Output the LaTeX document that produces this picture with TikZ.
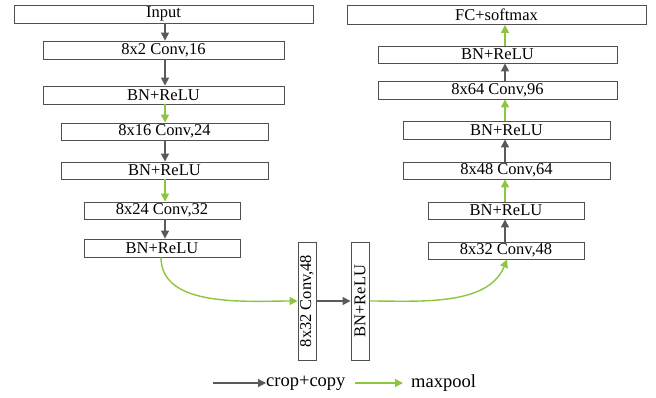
\documentclass[tikz,border=0pt]{standalone}
\usepackage{fontspec}
\setmainfont{Liberation Serif}
\usetikzlibrary{arrows.meta}
\definecolor{arrgray}{HTML}{5A5A5A}
\definecolor{arrgreen}{HTML}{8CC63F}
\definecolor{boxgray}{HTML}{505050}
\tikzset{
  lay/.style={draw=boxgray, line width=0.9pt, fill=white, inner sep=0pt,
    minimum height=18pt, font=\fontsize{16.5}{18}\selectfont},
  vlay/.style={lay, minimum width=18pt, minimum height=118pt},
  garr/.style={draw=arrgray, line width=1.4pt, -{Triangle[length=8pt,width=8pt]}},
  varr/.style={draw=arrgreen, line width=1.4pt, -{Triangle[length=8pt,width=8pt]}},
  legtext/.style={inner sep=0pt, anchor=west, font=\fontsize{18.5}{20}\selectfont}
}
\begin{document}
\begin{tikzpicture}[x=1pt,y=-1pt]
\useasboundingbox (0,0) rectangle (656,397);
% left column
\node[lay, minimum width=299pt] (in)  at (163.5,14) {Input};
\node[lay, minimum width=241pt] (c16) at (163.5,50) {8x2 Conv,16};
\node[lay, minimum width=241pt] (b1)  at (163.5,95) {BN+ReLU};
\node[lay, minimum width=207pt, minimum height=17pt] (c24) at (164.5,131.5) {8x16 Conv,24};
\node[lay, minimum width=207pt, minimum height=17pt] (b2)  at (164.5,170.5) {BN+ReLU};
\node[lay, minimum width=156pt, minimum height=17pt] (c32) at (162,210.5) {8x24 Conv,32};
\node[lay, minimum width=156pt] (b3)  at (162,248) {BN+ReLU};
\coordinate (lx) at (165,0);
% vertical
\node[vlay] (v1) at (307,301) {\rotatebox{90}{8x32 Conv,48}};
\node[vlay] (v2) at (360,301) {\rotatebox{90}{BN+ReLU}};
% right column
\node[lay, minimum width=299pt, minimum height=19pt] (fc) at (496.5,15) {FC+softmax};
\node[lay, minimum width=239pt, minimum height=17pt] (rb1) at (497.5,54.5) {BN+ReLU};
\node[lay, minimum width=239pt] (r96) at (497.5,90) {8x64 Conv,96};
\node[lay, minimum width=207pt] (rb2) at (506.5,130) {BN+ReLU};
\node[lay, minimum width=207pt, minimum height=17pt] (r64) at (506.5,170.5) {8x48 Conv,64};
\node[lay, minimum width=156pt, minimum height=17pt] (rb3) at (506,210.5) {BN+ReLU};
\node[lay, minimum width=156pt, minimum height=17pt] (r48) at (506,250.5) {8x32 Conv,48};
\coordinate (rx) at (505,0);
% left arrows
\draw[garr] (in.south -| lx) -- (c16.north -| lx);
\draw[garr] (c16.south -| lx) -- (b1.north -| lx);
\draw[varr] (b1.south -| lx) -- (c24.north -| lx);
\draw[garr] (c24.south -| lx) -- (b2.north -| lx);
\draw[varr] (b2.south -| lx) -- (c32.north -| lx);
\draw[garr] (c32.south -| lx) -- (b3.north -| lx);
% bottom
\coordinate (cs) at (161,0);
\draw[varr] (b3.south -| cs) to[out=-90,in=180,looseness=0.9] (v1.west);
\draw[garr] (v1.east) -- (v2.west);
\coordinate (ce) at (507,0);
\draw[varr] (v2.east) to[out=0,in=-112,looseness=0.9] (r48.south -| ce);
% right arrows
\draw[garr] (r48.north -| rx) -- (rb3.south -| rx);
\draw[varr] (rb3.north -| rx) -- (r64.south -| rx);
\draw[garr] (r64.north -| rx) -- (rb2.south -| rx);
\draw[varr] (rb2.north -| rx) -- (r96.south -| rx);
\draw[garr] (r96.north -| rx) -- (rb1.south -| rx);
\draw[varr] (rb1.north -| rx) -- (fc.south -| rx);
% legend
\node[legtext] (l1) at (266,383) {crop+copy};
\node[legtext] (l2) at (411,383) {maxpool};
\coordinate (ls1) at (213,383);
\coordinate (ls2) at (355,383);
\coordinate (le2) at (403,383);
\draw[garr, line width=1.2pt] (ls1) -- (l1.west);
\draw[varr, line width=1.2pt] (ls2) -- (le2);
\end{tikzpicture}
\end{document}
